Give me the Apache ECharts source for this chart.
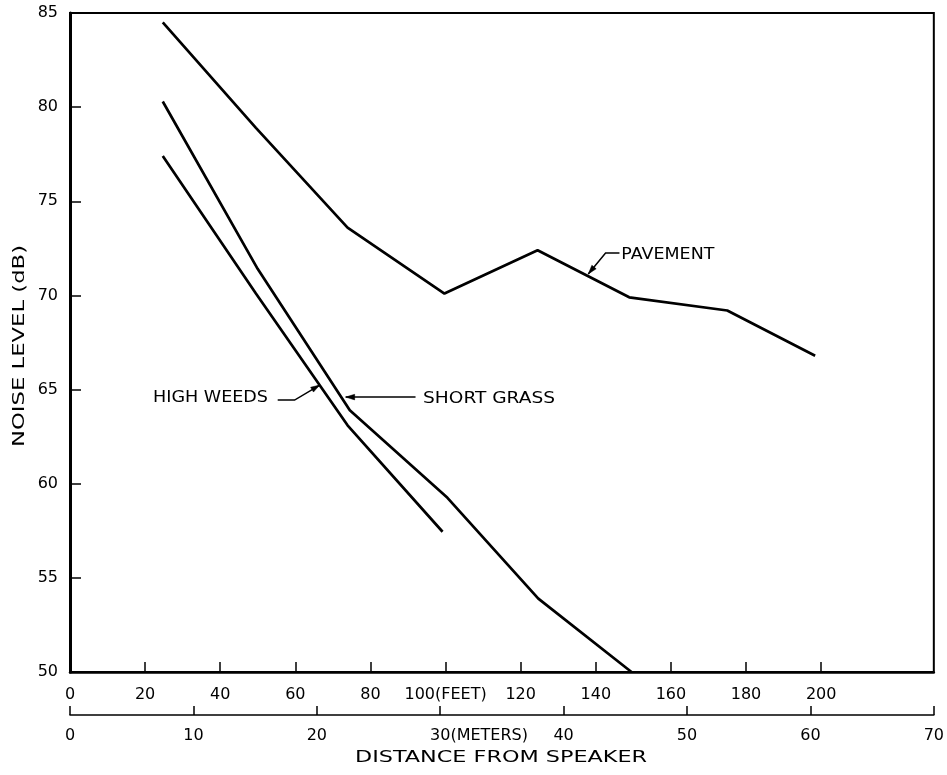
<!DOCTYPE html>
<html>
<head>
<meta charset="utf-8">
<script src="https://cdn.jsdelivr.net/npm/echarts@6/dist/echarts.min.js"></script>
<style>
html,body{margin:0;padding:0;background:#fff;}
#chart{width:947px;height:775px;}
</style>
</head>
<body>
<div id="chart"></div>
<script>
// ---- data (distance in feet, noise level in dB) ----
const pavementX = [24.7, 49.5, 73.9, 99.7, 124.5, 148.9, 175.0, 198.4];
const pavementY = [84.5, 78.9, 73.6, 70.1, 72.4, 69.9, 69.2, 66.8];
const shortGrassX = [24.7, 50.0, 74.5, 100.5, 124.7, 149.5];
const shortGrassY = [80.3, 71.4, 63.9, 59.25, 53.9, 50.0];
const highWeedsX = [24.7, 49.5, 73.9, 99.2];
const highWeedsY = [77.4, 70.1, 63.1, 57.45];

const feetTicks = [0, 20, 40, 60, 80, 100, 120, 140, 160, 180, 200];
const meterTicks = [0, 10, 20, 30, 40, 50, 60, 70];
const yTicks = [50, 55, 60, 65, 70, 75, 80, 85];

const xTitle = 'DISTANCE FROM SPEAKER';
const yTitle = 'NOISE LEVEL (dB)';

const FONT = '"DejaVu Sans", sans-serif';
const FS = 16;

function pairs(xs, ys) { return xs.map((x, i) => [x, ys[i]]); }
function measure(t, size) {
  const c = document.createElement('canvas').getContext('2d');
  c.font = size + 'px ' + FONT;
  return c.measureText(t).width;
}
const metersW = measure('(METERS)', FS);

const chart = echarts.init(document.getElementById('chart'), null, {renderer: 'canvas'});
const lineStyle = {color: '#000', width: 2.7};

chart.setOption({
  animation: false,
  backgroundColor: '#fff',
  textStyle: {fontFamily: FONT, color: '#000'},
  grid: {left: 70, top: 13, right: 12, bottom: 103, show: true, borderColor: '#000', borderWidth: 2, containLabel: false},
  xAxis: [
    {
      type: 'value', position: 'bottom', min: 0, max: 230,
      splitLine: {show: false},
      axisLine: {show: true, onZero: false, lineStyle: {color: '#000', width: 2.5}},
      axisTick: {show: true, inside: true, length: 10, lineStyle: {color: '#000', width: 1.5}, customValues: feetTicks.slice(1)},
      axisLabel: {
        customValues: feetTicks, margin: 15, fontSize: FS, fontFamily: FONT, color: '#000',
        formatter: v => v === 100 ? '100(FEET)' : String(v)
      }
    },
    {
      type: 'value', position: 'bottom', offset: 43, min: 0, max: 70,
      splitLine: {show: false},
      axisLine: {show: true, onZero: false, lineStyle: {color: '#000', width: 1.6}},
      axisTick: {show: true, inside: true, length: 9, lineStyle: {color: '#000', width: 1.5}, customValues: meterTicks},
      axisLabel: {
        customValues: meterTicks, margin: 13, fontSize: FS, fontFamily: FONT, color: '#000',
        formatter: v => v === 30 ? '{pad|}30(METERS)' : String(v),
        rich: {pad: {width: metersW, fontSize: FS}}
      }
    }
  ],
  yAxis: {
    type: 'value', min: 50, max: 85, interval: 5,
    splitLine: {show: false},
    axisLine: {show: true, lineStyle: {color: '#000', width: 3}},
    axisTick: {show: true, inside: true, length: 11, lineStyle: {color: '#000', width: 1.5}},
    axisLabel: {margin: 12, fontSize: FS, fontFamily: FONT, color: '#000'}
  },
  series: [
    {name: 'PAVEMENT', type: 'line', xAxisIndex: 0, data: pairs(pavementX, pavementY), symbol: 'none', lineStyle: lineStyle, z: 3},
    {name: 'SHORT GRASS', type: 'line', xAxisIndex: 0, data: pairs(shortGrassX, shortGrassY), symbol: 'none', lineStyle: lineStyle, z: 3},
    {name: 'HIGH WEEDS', type: 'line', xAxisIndex: 0, data: pairs(highWeedsX, highWeedsY), symbol: 'none', lineStyle: lineStyle, z: 3}
  ]
});

// ---- annotations (anchors in data units: feet, dB) ----
const annotations = [
  {text: 'PAVEMENT', at: [146.8, 72.15], w: 93, path: [[146.3, 72.25], [142.6, 72.25], [138.0, 71.14]]},
  {text: 'SHORT GRASS', at: [94.0, 64.5], w: 132, path: [[92.0, 64.6], [73.4, 64.6]]},
  {text: 'HIGH WEEDS', at: [22.1, 64.55], w: 115, path: [[55.3, 64.44], [59.8, 64.44], [66.5, 65.24]]}
];
function toPx(p) { return chart.convertToPixel({xAxisIndex: 0, yAxisIndex: 0}, p); }
const graphics = [];
const AF = 15;
annotations.forEach(a => {
  const t = toPx(a.at);
  const sx = a.w / measure(a.text, AF);
  graphics.push({type: 'text', x: t[0], y: t[1], scaleX: sx, style: {text: a.text, font: AF + 'px ' + FONT, fill: '#000', textVerticalAlign: 'middle', textAlign: 'left'}});
  const pts = a.path.map(toPx);
  graphics.push({type: 'polyline', shape: {points: pts}, style: {stroke: '#000', lineWidth: 1.5, fill: null}});
  const p1 = pts[pts.length - 2], p2 = pts[pts.length - 1];
  const dx = p2[0] - p1[0], dy = p2[1] - p1[1], L = Math.hypot(dx, dy);
  const ux = dx / L, uy = dy / L, len = 9, w = 2.8;
  const bx = p2[0] - ux * len, by = p2[1] - uy * len;
  graphics.push({type: 'polygon', shape: {points: [[p2[0], p2[1]], [bx - uy * w, by + ux * w], [bx + uy * w, by - ux * w]]}, style: {fill: '#000', stroke: '#000', lineWidth: 0.5}});
});
// axis titles (stretched horizontally to match the wide lettering)
const TF = 16;
graphics.push({type: 'text', x: 501, y: 758, scaleX: 292 / measure(xTitle, TF),
  style: {text: xTitle, font: TF + 'px ' + FONT, fill: '#000', textAlign: 'center', textVerticalAlign: 'middle'}});
graphics.push({type: 'text', x: 20, y: 346, rotation: Math.PI / 2, scaleX: 202 / measure(yTitle, TF),
  style: {text: yTitle, font: TF + 'px ' + FONT, fill: '#000', textAlign: 'center', textVerticalAlign: 'middle'}});
chart.setOption({graphic: graphics});
</script>
</body>
</html>
